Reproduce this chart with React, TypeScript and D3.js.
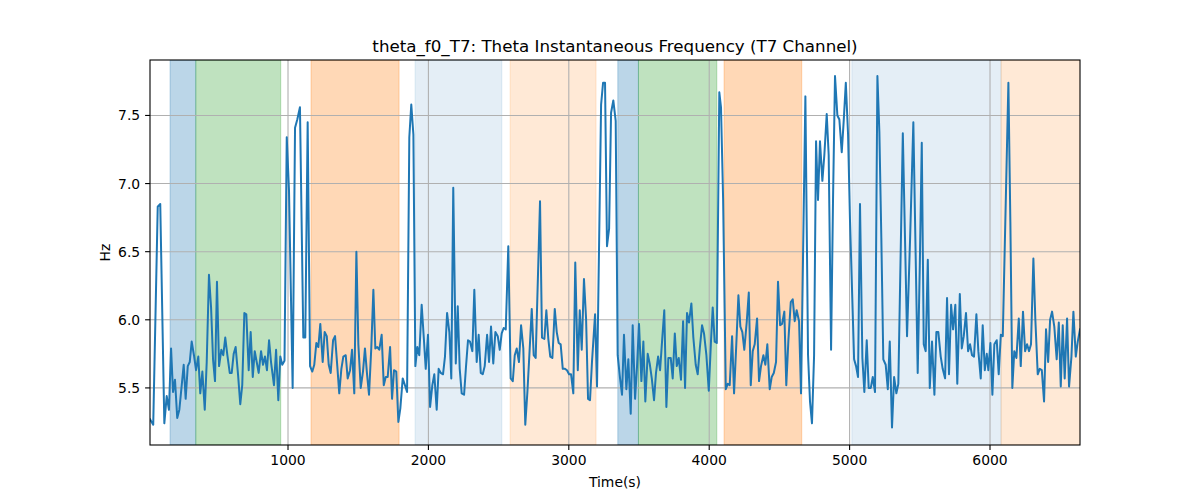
import React, { useEffect, useRef } from "react";
import * as d3 from "d3";

// sample times (s) and instantaneous theta frequency (Hz)
const times = [
  17, 40, 72, 90, 119, 136, 152, 167, 181, 195, 211, 226, 243, 257, 271, 286, 300, 314, 330, 345,
  361, 375, 390, 407, 421, 437, 452, 466, 480, 494, 509, 525, 539, 553, 568, 585, 599, 613, 627, 644,
  660, 674, 689, 703, 720, 734, 749, 763, 777, 791, 808, 822, 836, 850, 865, 879, 900, 915, 931, 945,
  959, 975, 991, 1007, 1033, 1050, 1066, 1085, 1109, 1123, 1140, 1157, 1173, 1187, 1202, 1216, 1230, 1247, 1261, 1276,
  1290, 1304, 1321, 1335, 1351, 1365, 1380, 1394, 1411, 1425, 1442, 1456, 1472, 1487, 1501, 1518, 1534, 1548, 1563, 1577,
  1593, 1608, 1622, 1636, 1650, 1667, 1682, 1696, 1710, 1727, 1741, 1755, 1771, 1786, 1800, 1817, 1833, 1848, 1864, 1878,
  1893, 1907, 1921, 1935, 1952, 1967, 1981, 1997, 2012, 2028, 2042, 2059, 2073, 2088, 2104, 2118, 2133, 2149, 2163, 2177,
  2195, 2209, 2223, 2237, 2254, 2268, 2282, 2296, 2313, 2327, 2344, 2358, 2373, 2387, 2401, 2418, 2432, 2446, 2462, 2477,
  2494, 2508, 2522, 2536, 2551, 2569, 2586, 2601, 2615, 2629, 2645, 2660, 2676, 2690, 2705, 2719, 2736, 2750, 2764, 2795,
  2809, 2826, 2840, 2854, 2868, 2883, 2900, 2914, 2928, 2942, 2957, 2973, 2987, 3002, 3016, 3032, 3046, 3064, 3078, 3092,
  3108, 3123, 3137, 3151, 3165, 3187, 3201, 3230, 3244, 3258, 3272, 3287, 3301, 3317, 3334, 3348, 3365, 3379, 3393, 3410,
  3424, 3441, 3455, 3472, 3486, 3500, 3517, 3531, 3545, 3562, 3576, 3591, 3607, 3621, 3636, 3650, 3664, 3680, 3695, 3709,
  3726, 3740, 3755, 3769, 3783, 3799, 3814, 3828, 3842, 3856, 3873, 3887, 3904, 3918, 3933, 3949, 3963, 3980, 3997, 4013,
  4025, 4039, 4054, 4072, 4084, 4099, 4118, 4132, 4146, 4163, 4177, 4193, 4208, 4222, 4236, 4250, 4267, 4282, 4296, 4310,
  4324, 4341, 4355, 4369, 4386, 4400, 4414, 4431, 4445, 4460, 4476, 4490, 4505, 4519, 4535, 4549, 4564, 4581, 4595, 4609,
  4623, 4640, 4654, 4685, 4704, 4718, 4732, 4747, 4761, 4775, 4789, 4806, 4820, 4837, 4851, 4868, 4882, 4896, 4913, 4927,
  4944, 4958, 4973, 4989, 5003, 5017, 5032, 5046, 5060, 5074, 5091, 5105, 5122, 5136, 5151, 5165, 5181, 5198, 5212, 5226,
  5240, 5257, 5272, 5286, 5302, 5317, 5333, 5347, 5379, 5409, 5431, 5454, 5485, 5500, 5514, 5528, 5542, 5557, 5571, 5587,
  5604, 5618, 5632, 5649, 5663, 5680, 5694, 5708, 5723, 5737, 5753, 5767, 5785, 5799, 5813, 5829, 5844, 5858, 5872, 5886,
  5903, 5917, 5934, 5948, 5963, 5977, 5988, 6003, 6017, 6031, 6048, 6062, 6077, 6091, 6131, 6145, 6159, 6173, 6188, 6205,
  6219, 6235, 6250, 6264, 6278, 6292, 6309, 6323, 6340, 6354, 6369, 6385, 6399, 6414, 6428, 6442, 6458, 6475, 6490, 6504,
  6518, 6532, 6549, 6563, 6580, 6594, 6611, 6625, 6641,
];

const freq = [
  5.27, 5.23, 6.83, 6.85, 5.24, 5.44, 5.34, 5.79, 5.47, 5.56, 5.28, 5.34, 5.52, 5.67, 5.42, 5.66, 5.69, 5.84, 5.74, 5.63,
  5.73, 5.46, 5.62, 5.34, 5.69, 6.33, 6.09, 5.71, 5.55, 6.28, 5.66, 5.78, 5.74, 5.87, 5.74, 5.61, 5.61, 5.75, 5.8, 5.6,
  5.38, 5.52, 6.05, 6.04, 5.63, 5.91, 5.58, 5.77, 5.69, 5.61, 5.77, 5.67, 5.73, 5.63, 5.85, 5.69, 5.52, 5.78, 5.41, 5.73,
  5.67, 5.7, 7.34, 6.95, 5.5, 7.41, 7.47, 7.56, 5.87, 5.87, 7.45, 5.66, 5.62, 5.67, 5.83, 5.8, 5.97, 5.69, 5.91, 5.88,
  5.67, 5.61, 5.85, 5.88, 5.66, 5.46, 5.64, 5.73, 5.74, 5.57, 5.63, 5.78, 5.46, 6.5, 5.82, 5.5, 5.62, 5.79, 5.6, 5.45,
  5.79, 6.22, 5.79, 5.8, 5.78, 5.89, 5.52, 5.58, 5.58, 5.8, 5.42, 5.63, 5.62, 5.25, 5.35, 5.57, 5.52, 5.47, 7.34, 7.58,
  7.36, 5.66, 5.8, 5.74, 6.11, 5.87, 5.64, 5.89, 5.36, 5.52, 5.6, 5.34, 5.64, 5.61, 5.6, 5.73, 6.05, 5.91, 5.57, 6.97,
  5.68, 6.1, 5.64, 5.46, 5.45, 5.66, 5.85, 5.84, 5.77, 6.22, 5.69, 5.89, 5.61, 5.6, 5.66, 5.89, 5.69, 5.95, 5.68, 5.91,
  5.88, 5.78, 5.9, 5.94, 5.93, 6.54, 5.57, 5.55, 5.74, 5.79, 5.69, 5.96, 5.79, 5.23, 5.47, 5.74, 6.08, 5.74, 5.72, 6.87,
  5.87, 5.86, 6.07, 5.86, 5.73, 5.72, 6.08, 5.91, 5.83, 5.82, 5.64, 5.64, 5.63, 5.6, 5.6, 5.46, 6.42, 5.63, 6.07, 5.78,
  6.3, 6.01, 5.42, 5.41, 5.69, 6.04, 5.51, 7.58, 7.74, 7.74, 6.54, 6.67, 7.52, 7.61, 7.46, 5.74, 5.57, 5.45, 5.89, 5.49,
  5.71, 5.31, 5.96, 5.42, 5.66, 5.97, 5.55, 5.84, 5.4, 5.75, 5.68, 5.57, 5.41, 5.61, 5.73, 5.63, 5.84, 6.07, 5.36, 5.72,
  5.72, 5.57, 5.9, 5.66, 5.72, 5.56, 5.99, 5.5, 6.05, 5.98, 6.12, 5.87, 5.67, 5.6, 5.79, 5.96, 5.9, 5.74, 5.48, 5.85,
  6.09, 5.84, 5.83, 7.67, 7.56, 6.89, 5.49, 5.53, 5.52, 5.88, 5.46, 5.82, 6.18, 5.95, 5.91, 5.78, 5.98, 6.2, 5.52, 5.77,
  5.82, 6.01, 5.55, 5.66, 5.74, 5.67, 5.82, 5.49, 5.58, 5.61, 5.69, 6.28, 5.96, 5.97, 6.06, 5.52, 5.85, 6.13, 6.15, 5.99,
  6.07, 5.99, 5.46, 7.64, 5.74, 5.4, 5.24, 5.74, 7.31, 6.88, 7.31, 7.02, 7.21, 7.51, 7.21, 5.78, 6.89, 7.79, 7.5, 7.47,
  7.23, 7.46, 7.74, 7.36, 6.72, 6.23, 5.71, 5.66, 5.58, 6.85, 5.72, 5.47, 5.85, 5.5, 5.5, 5.58, 5.47, 7.79, 7.38, 6.6,
  5.71, 5.67, 5.49, 5.84, 5.21, 5.58, 5.46, 5.53, 7.37, 5.88, 6.6, 7.45, 5.61, 6.4, 7.3, 5.82, 5.77, 6.44, 5.5, 5.84,
  5.45, 5.91, 5.91, 5.73, 5.64, 5.57, 6.16, 5.6, 6.11, 5.93, 6.11, 5.53, 6.19, 5.79, 5.88, 6.05, 5.77, 5.82, 5.74, 5.73,
  6.04, 5.77, 5.57, 5.96, 5.63, 5.75, 5.63, 5.83, 5.45, 5.82, 5.85, 5.6, 5.89, 5.88, 7.74, 6.72, 5.5, 5.77, 5.72, 6.01,
  5.66, 6.06, 5.77, 5.82, 5.77, 5.82, 6.45, 6.0, 5.6, 5.64, 5.63, 5.4, 5.93, 5.69, 6.0, 6.06, 5.95, 5.71, 5.98, 5.51,
  5.96, 5.57, 6.01, 5.51, 5.73, 6.06, 5.73, 5.84, 5.93,
];

// shaded stage intervals
const spanStart = [160, 343, 1164, 1905, 2582, 3349, 3496, 4106, 5016, 6079];
const spanEnd = [343, 948, 1791, 2523, 3194, 3496, 4054, 4659, 6079, 6660];
const spanColor = ["#1f77b4", "#2ca02c", "#ff7f0e", "#1f77b4", "#ff7f0e", "#1f77b4", "#2ca02c", "#ff7f0e", "#1f77b4", "#ff7f0e"];
const spanAlpha = [0.3, 0.3, 0.3, 0.12, 0.17, 0.3, 0.3, 0.3, 0.12, 0.17];

const xTicks = [1000, 2000, 3000, 4000, 5000, 6000];
const yTicks = [5.5, 6.0, 6.5, 7.0, 7.5];

const W = 1200,
  H = 500;
const box = { left: 150, right: 1080, top: 60, bottom: 445 };
const FONT = "DejaVu Sans, sans-serif";

function App() {
  const ref = useRef<SVGSVGElement>(null);

  useEffect(() => {
    const svg = d3.select(ref.current);
    svg.selectAll("*").remove();

    const x = d3
      .scaleLinear()
      .domain(d3.extent(times) as [number, number])
      .range([box.left, box.right]);
    const y = d3.scaleLinear().domain([5.081, 7.907]).range([box.bottom, box.top]);

    svg.append("rect").attr("width", W).attr("height", H).attr("fill", "white");

    svg
      .append("clipPath")
      .attr("id", "plot-clip")
      .append("rect")
      .attr("x", box.left)
      .attr("y", box.top)
      .attr("width", box.right - box.left)
      .attr("height", box.bottom - box.top);

    const plot = svg.append("g").attr("clip-path", "url(#plot-clip)");

    // spans
    plot
      .selectAll(".span")
      .data(spanStart)
      .enter()
      .append("rect")
      .attr("x", (d) => x(d))
      .attr("y", box.top)
      .attr("width", (d, i) => x(spanEnd[i]) - x(d))
      .attr("height", box.bottom - box.top)
      .attr("fill", (_, i) => spanColor[i])
      .attr("fill-opacity", (_, i) => spanAlpha[i])
      .attr("stroke", (_, i) => spanColor[i])
      .attr("stroke-opacity", (_, i) => spanAlpha[i])
      .attr("stroke-width", 1);

    // grid
    plot
      .selectAll(".gx")
      .data(xTicks)
      .enter()
      .append("line")
      .attr("x1", (d) => x(d))
      .attr("x2", (d) => x(d))
      .attr("y1", box.top)
      .attr("y2", box.bottom)
      .attr("stroke", "#b0b0b0")
      .attr("stroke-width", 1.1);
    plot
      .selectAll(".gy")
      .data(yTicks)
      .enter()
      .append("line")
      .attr("x1", box.left)
      .attr("x2", box.right)
      .attr("y1", (d) => y(d))
      .attr("y2", (d) => y(d))
      .attr("stroke", "#b0b0b0")
      .attr("stroke-width", 1.1);

    // frequency trace
    const line = d3
      .line<number>()
      .x((_, i) => x(times[i]))
      .y((d) => y(d));
    plot
      .append("path")
      .datum(freq)
      .attr("d", line)
      .attr("fill", "none")
      .attr("stroke", "#1f77b4")
      .attr("stroke-width", 2)
      .attr("stroke-linejoin", "round")
      .attr("stroke-linecap", "square");

    // frame
    svg
      .append("rect")
      .attr("x", box.left)
      .attr("y", box.top)
      .attr("width", box.right - box.left)
      .attr("height", box.bottom - box.top)
      .attr("fill", "none")
      .attr("stroke", "black")
      .attr("stroke-width", 1.1);

    // ticks
    const tx = svg.append("g");
    xTicks.forEach((t) => {
      tx.append("line")
        .attr("x1", x(t))
        .attr("x2", x(t))
        .attr("y1", box.bottom)
        .attr("y2", box.bottom + 4.9)
        .attr("stroke", "black")
        .attr("stroke-width", 1.1);
      tx.append("text")
        .attr("x", x(t))
        .attr("y", box.bottom + 20)
        .attr("text-anchor", "middle")
        .attr("font-family", FONT)
        .attr("font-size", 13.9)
        .text(t);
    });
    yTicks.forEach((t) => {
      tx.append("line")
        .attr("x1", box.left - 4.9)
        .attr("x2", box.left)
        .attr("y1", y(t))
        .attr("y2", y(t))
        .attr("stroke", "black")
        .attr("stroke-width", 1.1);
      tx.append("text")
        .attr("x", box.left - 9.8)
        .attr("y", y(t) + 5)
        .attr("text-anchor", "end")
        .attr("font-family", FONT)
        .attr("font-size", 13.9)
        .text(d3.format(".1f")(t));
    });

    svg
      .append("text")
      .attr("x", (box.left + box.right) / 2)
      .attr("y", 487)
      .attr("text-anchor", "middle")
      .attr("font-family", FONT)
      .attr("font-size", 13.9)
      .text("Time(s)");

    svg
      .append("text")
      .attr("transform", `translate(110, ${(box.top + box.bottom) / 2}) rotate(-90)`)
      .attr("text-anchor", "middle")
      .attr("font-family", FONT)
      .attr("font-size", 13.9)
      .text("Hz");

    svg
      .append("text")
      .attr("x", (box.left + box.right) / 2)
      .attr("y", 52)
      .attr("text-anchor", "middle")
      .attr("font-family", FONT)
      .attr("font-size", 16.7)
      .text("theta_f0_T7: Theta Instantaneous Frequency (T7 Channel)");
  }, []);

  return (
    <svg
      ref={ref}
      width={W}
      height={H}
      style={{ position: "absolute", left: 0, top: 0, display: "block" }}
    />
  );
}

export default App;
